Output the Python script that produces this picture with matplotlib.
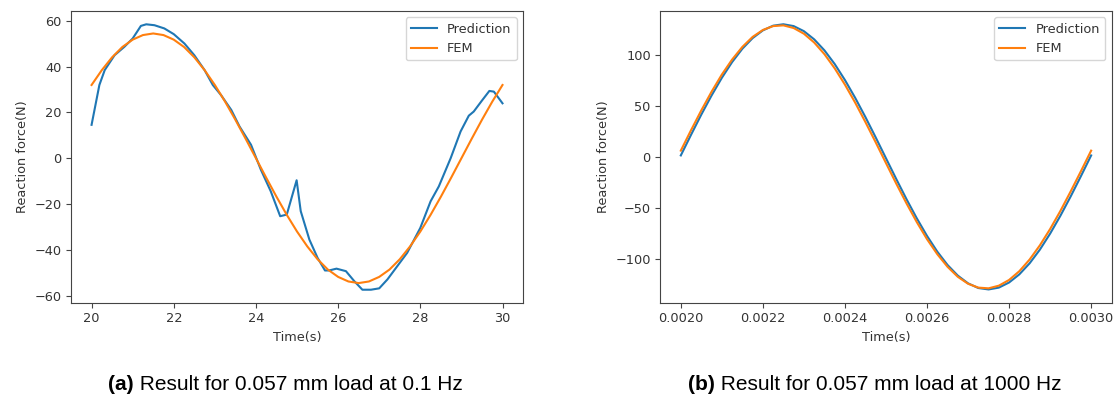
import matplotlib
matplotlib.use("Agg")
import matplotlib.pyplot as plt

# ---- data: (a) 0.1 Hz ----
pred_a_t = [20.0, 20.19, 20.32, 20.56, 20.8, 21.0, 21.2, 21.33, 21.53, 21.77,
            22.0, 22.26, 22.5, 22.75, 22.95, 23.15, 23.4, 23.6, 23.88, 24.12,
            24.36, 24.59, 24.75, 24.99, 25.09, 25.3, 25.5, 25.68, 25.78, 25.96,
            26.19, 26.39, 26.59, 26.8, 27.0, 27.2, 27.44, 27.68, 28.0, 28.25,
            28.45, 28.74, 28.98, 29.18, 29.3, 29.5, 29.68, 29.79, 30.0]
pred_a_f = [14.6, 32.0, 38.5, 45.0, 48.7, 52.3, 57.8, 58.5, 58.1, 56.7,
            54.2, 50.1, 45.0, 38.5, 32.0, 27.6, 21.1, 13.9, 5.9, -5.0,
            -14.4, -25.3, -24.6, -9.6, -23.1, -35.5, -43.5, -49.0, -49.0, -48.2,
            -49.3, -53.6, -57.4, -57.4, -56.8, -52.9, -47.1, -41.3, -30.4, -18.8,
            -12.3, 0.1, 11.7, 18.6, 20.4, 25.2, 29.4, 29.1, 24.0]

fem_a_t = [20.0, 20.25, 20.5, 20.75, 21.0, 21.25, 21.5, 21.75, 22.0, 22.25,
           22.5, 22.75, 23.0, 23.25, 23.5, 23.75, 24.0, 24.25, 24.5, 24.75,
           25.0, 25.25, 25.5, 25.75, 26.0, 26.25, 26.5, 26.75, 27.0, 27.25,
           27.5, 27.75, 28.0, 28.25, 28.5, 28.75, 29.0, 29.25, 29.5, 29.75, 30.0]
fem_a_f = [32.0, 38.5, 44.1, 48.6, 51.8, 53.8, 54.5, 53.8, 51.8, 48.6,
           44.1, 38.5, 32.0, 24.7, 16.8, 8.5, 0.0, -8.5, -16.8, -24.7,
           -32.0, -38.5, -44.1, -48.6, -51.8, -53.8, -54.5, -53.8, -51.8, -48.6,
           -44.1, -38.5, -32.0, -24.7, -16.8, -8.5, 0.0, 8.5, 16.8, 24.7, 32.0]

# ---- data: (b) 1000 Hz ----
t_b = [0.002 + 0.000025 * k for k in range(41)]
pred_b_f = [1.4, 21.7, 41.5, 60.2, 77.5, 92.9, 106.0, 116.4, 124.0, 128.6,
            130.0, 128.2, 123.2, 115.2, 104.4, 91.0, 75.3, 57.8, 38.9, 19.0,
            -1.4, -21.7, -41.5, -60.2, -77.5, -92.9, -106.0, -116.4, -124.0, -128.6,
            -130.0, -128.2, -123.2, -115.2, -104.4, -91.0, -75.3, -57.8, -38.9, -19.0,
            1.4]
fem_b_f = [6.1, 26.2, 45.6, 63.9, 80.7, 95.4, 107.8, 117.6, 124.4, 128.2,
           128.9, 126.3, 120.7, 112.1, 100.7, 86.8, 70.8, 53.1, 34.0, 14.2,
           -6.1, -26.2, -45.6, -63.9, -80.7, -95.4, -107.8, -117.6, -124.4, -128.2,
           -128.9, -126.3, -120.7, -112.1, -100.7, -86.8, -70.8, -53.1, -34.0, -14.2,
           6.1]

labels = ["Prediction", "FEM"]
xlabel = "Time(s)"
ylabel = "Reaction force(N)"
captions = [("(a)", " Result for 0.057 mm load at 0.1 Hz"),
            ("(b)", " Result for 0.057 mm load at 1000 Hz")]

fs = 9.3
grey = "#333333"
plt.rcParams.update({
    "font.size": fs,
    "axes.linewidth": 0.8,
    "axes.edgecolor": "#444444",
    "xtick.major.size": 3.3,
    "ytick.major.size": 3.3,
    "xtick.major.width": 0.8,
    "ytick.major.width": 0.8,
    "xtick.color": "#444444",
    "ytick.color": "#444444",
    "xtick.labelcolor": grey,
    "ytick.labelcolor": grey,
    "axes.labelcolor": grey,
    "text.color": grey,
    "lines.linewidth": 1.5,
})

fig = plt.figure(figsize=(11.15, 3.94), dpi=100)
ax1 = fig.add_axes([0.0637, 0.231, 0.4054, 0.741])
ax2 = fig.add_axes([0.5922, 0.2317, 0.4048, 0.7404])

ax1.plot(pred_a_t, pred_a_f, color="#1f77b4", label=labels[0])
ax1.plot(fem_a_t, fem_a_f, color="#ff7f0e", label=labels[1])
ax1.set_xticks([20, 22, 24, 26, 28, 30])
ax1.set_yticks([-60, -40, -20, 0, 20, 40, 60])

ax2.plot(t_b, pred_b_f, color="#1f77b4", label=labels[0])
ax2.plot(t_b, fem_b_f, color="#ff7f0e", label=labels[1])
ax2.set_xticks([0.0020, 0.0022, 0.0024, 0.0026, 0.0028, 0.0030])
ax2.set_xticklabels(["0.0020", "0.0022", "0.0024", "0.0026", "0.0028", "0.0030"])
ax2.set_yticks([-100, -50, 0, 50, 100])

for ax in (ax1, ax2):
    ax.set_xlabel(xlabel, fontsize=fs)
    ax.set_ylabel(ylabel, fontsize=fs)
    ax.legend(loc="upper right", fontsize=fs)

# captions
for (bold, rest), x0 in zip(captions, [108 / 1115, 688 / 1115]):
    t = fig.text(x0, 0.010, bold, fontsize=15, fontweight="bold",
                 family="Liberation Sans", ha="left", va="baseline", color="black")
    fig.canvas.draw()
    plt.annotate(rest, xy=(1, 0), xycoords=t, fontsize=15,
                 family="Liberation Sans", ha="left", va="bottom",
                 annotation_clip=False, color="black")

fig.savefig("out.png", dpi=100)
